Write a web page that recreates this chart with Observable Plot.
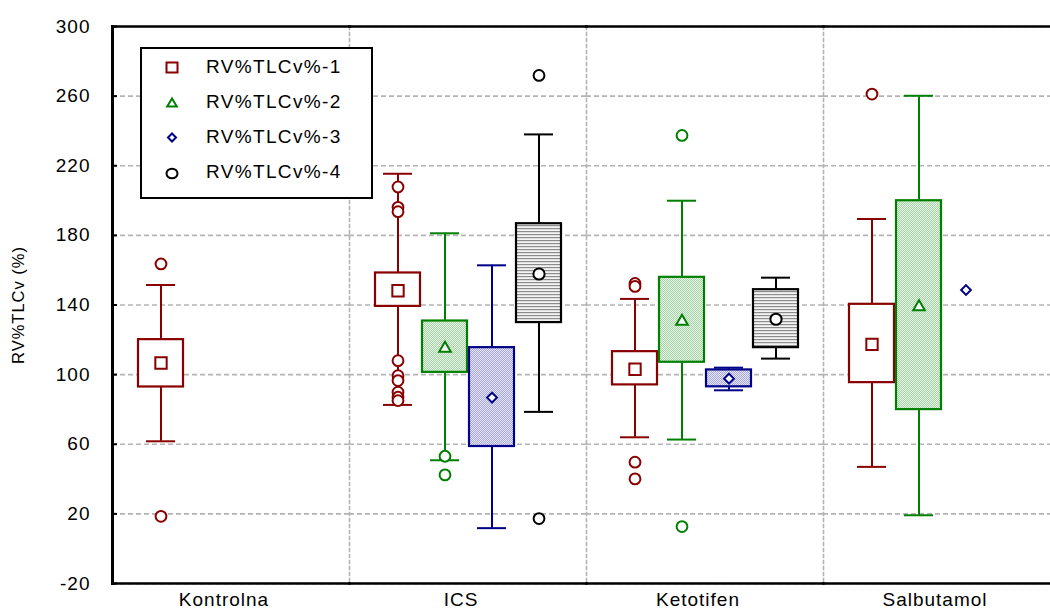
<!DOCTYPE html>
<html>
<head>
<meta charset="utf-8">
<script src="https://cdn.jsdelivr.net/npm/d3@7"></script>
<script src="https://cdn.jsdelivr.net/npm/@observablehq/plot@0.6"></script>
<style>
  html, body { margin: 0; padding: 0; background: #fff; overflow: hidden; width: 1050px; height: 611px; }
  #wrap { position: relative; width: 1050px; height: 611px; overflow: hidden; }
  #wrap > svg { max-width: none !important; }
  #legend { position: absolute; left: 140px; top: 47px; width: 229px; height: 148px; border: 2px solid #000; background: #fff;
            font-family: "Liberation Sans", Arial, sans-serif; font-size: 19px; letter-spacing: 1.35px; color: #000; }
  .lrow { position: absolute; left: 0; height: 24px; line-height: 24px; }
  .lrow svg { position: absolute; left: 22px; top: 5px; }
  .lrow span { position: absolute; left: 64px; white-space: nowrap; }
</style>
</head>
<body>
<svg width="0" height="0" style="position:absolute">
  <defs>
    <pattern id="pGreen" width="2" height="2" patternUnits="userSpaceOnUse">
      <rect width="2" height="2" fill="#e6f3e6"/>
      <rect width="1" height="1" fill="#a6d4a6"/>
      <rect x="1" y="1" width="1" height="1" fill="#a6d4a6"/>
    </pattern>
    <pattern id="pBlue" width="2" height="2" patternUnits="userSpaceOnUse">
      <rect width="2" height="2" fill="#e4e4f4"/>
      <rect width="1" height="1" fill="#a9a9dc"/>
      <rect x="1" y="1" width="1" height="1" fill="#a9a9dc"/>
    </pattern>
    <pattern id="pGray" width="4" height="3" patternUnits="userSpaceOnUse">
      <rect width="4" height="3" fill="#f4f4f4"/>
      <rect y="0" width="4" height="1.2" fill="#8c8c8c"/>
    </pattern>
  </defs>
</svg>
<div id="wrap"></div>
<script>
const categories = ["Kontrolna", "ICS", "Ketotifen", "Salbutamol"];
const seriesNames = ["RV%TLCv%-1", "RV%TLCv%-2", "RV%TLCv%-3", "RV%TLCv%-4"];
const yTicks = [-20, 20, 60, 100, 140, 180, 220, 260, 300];
const yLabel = "RV%TLCv (%)";

// rows = series, columns = categories (null = no value)
const centerValues = [
  [106.7, 148.2, 103.1, 117.4],
  [null, 115.1, 130.6, 138.9],
  [null, 86.8, 97.7, 148.6],
  [null, 157.8, 131.8, null]
];
const boxLow = [
  [92.9, 139.2, 94.1, 95.4],
  [null, 101.3, 107.1, 79.9],
  [null, 58.7, 93.0, null],
  [null, 129.9, 115.5, null]
];
const boxHigh = [
  [120.1, 158.4, 113.2, 140.4],
  [null, 130.8, 155.9, 199.9],
  [null, 115.5, 102.7, null],
  [null, 186.7, 148.8, null]
];
const whiskerLow = [
  [61.7, 82.6, 64.0, 47.0],
  [null, 50.8, 62.7, 19.2],
  [null, 11.8, 91.0, null],
  [null, 78.6, 109.2, null]
];
const whiskerHigh = [
  [151.5, 215.4, 143.5, 189.4],
  [null, 181.2, 199.9, 260.2],
  [null, 162.8, 104.0, null],
  [null, 238.0, 155.7, null]
];
const outlierValues = [
  [[163.6, 18.6], [207.8, 196.1, 193.6, 108.0, 99.4, 96.6, 89.9, 87.0, 85.1], [152.4, 150.7, 49.7, 40.1], [261.2]],
  [[], [53.1, 42.4], [237.4, 12.7], []],
  [[], [], [], []],
  [[], [271.9, 17.3], [], []]
];

const colors = ["#880000", "#008000", "#000088", "#000000"];
const fills = ["#ffffff", "url(#pGreen)", "url(#pBlue)", "url(#pGray)"];
const symbols = ["square", "triangle", "diamond2", "circle"];
const symbolR = [6.4, 4.3, 4.4, 5.6];

const marks = [
  Plot.gridY(yTicks, {stroke: "#b4b4b4", strokeOpacity: 1, strokeWidth: 1.6, strokeDasharray: "5,3"}),
  Plot.frame({anchor: "left", stroke: "#b4b4b4", strokeOpacity: 1, strokeWidth: 1.6, strokeDasharray: "3,3"})
];

seriesNames.forEach((name, s) => {
  const rows = categories.map((cat, i) => ({
    cat, series: name,
    mid: centerValues[s][i], q1: boxLow[s][i], q3: boxHigh[s][i],
    lo: whiskerLow[s][i], hi: whiskerHigh[s][i]
  })).filter(d => d.mid != null);
  const boxes = rows.filter(d => d.q1 != null);
  const outs = [];
  categories.forEach((cat, i) => outlierValues[s][i].forEach(v => outs.push({cat, series: name, v})));
  const c = colors[s];
  marks.push(
    Plot.ruleX(boxes, {fx: "cat", x: "series", y1: "q3", y2: "hi", stroke: c, strokeWidth: 2}),
    Plot.ruleX(boxes, {fx: "cat", x: "series", y1: "lo", y2: "q1", stroke: c, strokeWidth: 2}),
    Plot.tickY(boxes, {fx: "cat", x: "series", y: "hi", stroke: c, strokeWidth: 2, insetLeft: 8, insetRight: 8}),
    Plot.tickY(boxes, {fx: "cat", x: "series", y: "lo", stroke: c, strokeWidth: 2, insetLeft: 8, insetRight: 8}),
    Plot.barY(boxes, {fx: "cat", x: "series", y1: "q1", y2: "q3", fill: fills[s], stroke: c, strokeWidth: 2.2}),
    Plot.dot(outs, {fx: "cat", x: "series", y: "v", r: 5.4, stroke: c, strokeWidth: 2, fill: "white"}),
    Plot.dot(rows, {fx: "cat", x: "series", y: "mid", symbol: symbols[s], r: symbolR[s], stroke: c, strokeWidth: 2, fill: "white"})
  );
});

marks.push(
  Plot.frame({anchor: "top", stroke: "#000", strokeWidth: 2.5}),
  Plot.frame({anchor: "bottom", stroke: "#000", strokeWidth: 2.5}),
  Plot.frame({anchor: "left", stroke: "#000", strokeWidth: 3, facetAnchor: "left"}),
  Plot.axisY({ticks: yTicks, tickSize: -5, tickPadding: 27, tickFormat: d => String(d), label: null, fontSize: 19, stroke: "#000", strokeWidth: 2}),
  Plot.axisY({ticks: [], tickSize: 0, label: yLabel, labelArrow: "none", labelAnchor: "center", labelOffset: 100, fontSize: 16.5}),
  Plot.axisFx({anchor: "bottom", tickSize: 0, tickPadding: 9, label: null, fontSize: 19, dx: -7, style: {letterSpacing: "1.1px"}})
);

const chart = Plot.plot({
  width: 1062,
  height: 611,
  marginLeft: 110,
  marginRight: 1,
  marginTop: 26,
  marginBottom: 28,
  style: {fontFamily: "'Liberation Sans', Arial, sans-serif", fontSize: "18px", letterSpacing: "1px", color: "#000", background: "#fff", overflow: "visible", maxWidth: "none"},
  fx: {domain: categories, paddingInner: 0, paddingOuter: 0, axis: null, label: null},
  x: {domain: seriesNames, paddingInner: 0.053, paddingOuter: 0.529, axis: null},
  y: {domain: [-20, 300], axis: null},
  marks
});
document.getElementById("wrap").appendChild(chart);

// legend
const legend = document.createElement("div");
legend.id = "legend";
const shapes = [
  (c) => `<svg width="16" height="16"><rect x="2.5" y="2.5" width="11" height="10" fill="white" stroke="${c}" stroke-width="2"/></svg>`,
  (c) => `<svg width="16" height="16"><path d="M8,3.5 L12.8,11.5 L3.2,11.5 Z" fill="white" stroke="${c}" stroke-width="2"/></svg>`,
  (c) => `<svg width="16" height="16"><path d="M8,3.5 L12,7.5 L8,11.5 L4,7.5 Z" fill="white" stroke="${c}" stroke-width="2"/></svg>`,
  (c) => `<svg width="16" height="16"><ellipse cx="8" cy="8.5" rx="5.5" ry="4.8" fill="white" stroke="${c}" stroke-width="2"/></svg>`
];
seriesNames.forEach((name, s) => {
  const row = document.createElement("div");
  row.className = "lrow";
  row.style.top = (6 + s * 35) + "px";
  row.innerHTML = shapes[s](colors[s]) + `<span>${name}</span>`;
  legend.appendChild(row);
});
document.getElementById("wrap").appendChild(legend);
</script>
</body>
</html>
